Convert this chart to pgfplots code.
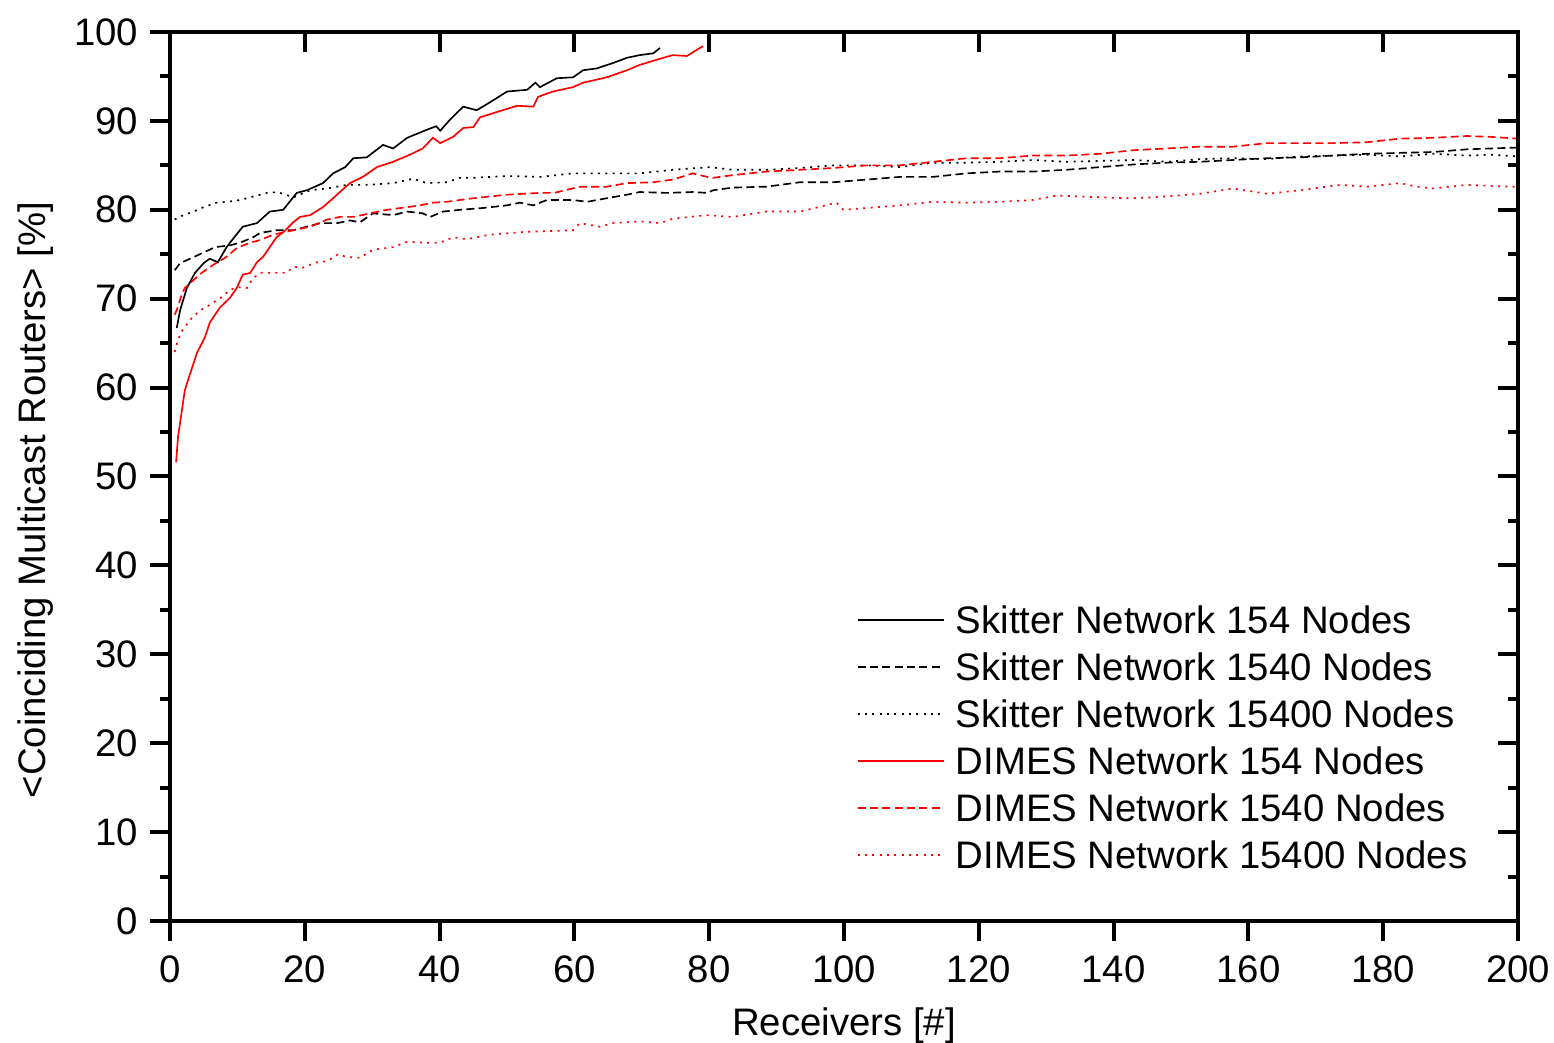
\documentclass[border=0pt]{standalone}
\usepackage{fontspec}
\setmainfont{Liberation Sans}
\usepackage{pgfplots}
\pgfplotsset{compat=1.18}
\newcommand{\fs}{\fontsize{11.5pt}{13.8pt}\selectfont}
\pgfplotsset{
  baseax/.style={
    scale only axis, width=404.4pt, height=266.7pt,
    xmin=0, xmax=200, ymin=0, ymax=100,
    xtick distance=20, ytick distance=10,
    minor x tick num=0, minor y tick num=1,
    major tick length=6pt, minor tick length=3pt,
    every tick/.style={line width=1.2pt, black},
    axis line style={line width=1.2pt},
    /pgf/number format/assume math mode=true,
    tick label style={font=\fs},
  }
}
\tikzset{
  dsh/.style={dash pattern=on 2.4pt off 1.3pt},
  dtt/.style={dash pattern=on 0.6pt off 1.6pt},
}
\begin{document}
\begin{tikzpicture}
\path[use as bounding box] (-51pt,-36.6pt) rectangle (415.2pt,276.3pt);
\begin{axis}[baseax,
  xtick pos=lower, ytick pos=left, tick align=outside,
  xticklabel style={yshift=-1pt},
  xlabel={Receivers [\#]}, ylabel={<Coinciding Multicast Routers> [\%]},
  label style={font=\fs},
  xlabel style={at={(axis description cs:0.5,-0.118)}, anchor=center},
  ylabel style={at={(axis description cs:-0.1,0.4736)}, anchor=center, rotate=0},
  legend cell align=left,
  legend image code/.code={\draw[#1, line width=0.5pt] (0pt,0pt) -- (25.8pt,0pt);},
  legend style={draw=none, fill=none, font=\fs, inner sep=0pt, outer sep=0pt,
    at={(axis description cs:0.5096,0.3592)}, anchor=north west,
    nodes={inner sep=0pt, text height=9.5pt, text depth=1.5pt},
    row sep=3.1pt, column sep=3.4pt},
  every axis plot/.append style={line width=0.5pt},
]
% Skitter 154
\addplot[black] coordinates {(1,66.7)(1.5,68.7)(2.5,71.2)(3.7,72.9)(5,74)(5.9,74.5)(7.1,74.1)(8.4,75.8)(8.9,76.3)(10.8,78.1)(12.9,78.5)(14.8,79.8)(16.8,80.0)(18.8,81.9)(20.3,82.2)(22.7,83.0)(24.2,84.1)(26.0,84.8)(27.2,85.8)(29.2,85.9)(31.6,87.3)(33.1,86.9)(35.2,88.1)(38.1,89.0)(39.5,89.4)(40.1,88.9)(41.5,90.1)(43.5,91.6)(45.5,91.2)(47.5,92.1)(50,93.3)(53,93.5)(54.2,94.3)(54.9,93.8)(57.4,94.8)(59.8,94.9)(61.3,95.7)(63.3,95.9)(65.7,96.5)(67.8,97.1)(69.7,97.4)(71.7,97.6)(72.7,98.2)};
\addlegendentry{Skitter Network 154 Nodes}
% Skitter 1540
\addplot[black, dsh] coordinates {(0.7,73.2)(1.5,74.0)(3,74.5)(4.7,75.1)(6.7,75.8)(8.9,76.0)(10.4,76.3)(12.3,76.9)(13.4,77.4)(15.8,77.7)(18.3,77.7)(20.3,78.1)(22.3,78.5)(24.8,78.5)(26.7,78.8)(28.2,78.6)(30.1,79.6)(33.1,79.4)(35.2,79.8)(37.5,79.6)(38.6,79.2)(40.5,79.8)(43,80.0)(46.4,80.2)(50,80.5)(51.9,80.8)(53.9,80.5)(55.9,81.1)(59.8,81.1)(61.9,80.9)(64.8,81.3)(67.8,81.7)(69.7,82.0)(73.7,81.9)(77.6,82.0)(79.7,81.9)(80.6,82.2)(83.5,82.5)(88.5,82.6)(93.5,83.1)(98.4,83.1)(103.4,83.4)(108.3,83.7)(113.2,83.7)(118.2,84.1)(123.1,84.3)(128,84.3)(133,84.5)(138,84.8)(143,85.1)(147.9,85.3)(152.8,85.4)(157.7,85.6)(162.7,85.8)(167.7,85.9)(172.6,86.1)(177.6,86.3)(182.5,86.4)(187.4,86.5)(192.4,86.8)(196,86.9)(200,87.0)};
\addlegendentry{Skitter Network 1540 Nodes}
% Skitter 15400
\addplot[black, dtt] coordinates {(0.7,78.9)(2,79.4)(3.5,79.8)(5,80.3)(6.9,80.8)(8.5,80.9)(10.4,81.1)(13.4,81.7)(14.8,82.0)(16.3,81.9)(18.3,81.4)(20.8,82.2)(23.3,82.4)(26.2,82.8)(29.2,82.8)(33.1,83.0)(36.1,83.5)(38.1,83.0)(41.1,83.1)(43,83.6)(45,83.6)(50,83.8)(54.9,83.7)(59.8,84.1)(64.8,84.1)(69.7,84.1)(74.6,84.5)(80.1,84.8)(83.5,84.5)(88.5,84.5)(93.5,84.7)(98.4,85.0)(103.4,85.0)(108.3,84.8)(113.2,85.3)(118.2,85.3)(123.1,85.4)(128,85.6)(133,85.4)(138,85.5)(143,85.6)(148,85.4)(152.8,85.7)(157.7,85.8)(162.7,85.7)(167.7,86.0)(172.6,86.1)(177.6,86.2)(182.5,86.0)(187.4,86.3)(192.4,86.1)(196,86.2)(200,86.0)};
\addlegendentry{Skitter Network 15400 Nodes}
% DIMES 154
\addplot[red] coordinates {(0.9,51.6)(1.2,54.5)(1.7,57.1)(2.2,59.7)(3.0,61.6)(4.0,63.9)(5.2,65.7)(5.9,67.3)(7.4,69.0)(8.9,70.1)(9.9,71.2)(10.8,72.7)(11.9,72.9)(12.9,74.1)(13.8,74.7)(14.8,75.8)(15.8,76.9)(17,77.6)(18.3,78.6)(19.3,79.2)(20.8,79.4)(22.7,80.3)(24.2,81.3)(25.5,82.2)(26.7,83.0)(28.6,83.7)(30.7,84.8)(33.1,85.4)(35.6,86.2)(37.5,86.9)(39.0,88.1)(40.1,87.5)(42.0,88.2)(43.5,89.2)(45,89.3)(46,90.4)(48.5,91.0)(51.5,91.7)(53.9,91.6)(54.6,92.7)(56.8,93.3)(59.8,93.8)(61.3,94.3)(64.8,94.9)(67.8,95.7)(69.7,96.3)(72.3,96.9)(74.6,97.4)(76.7,97.3)(78.6,98.2)(79.1,98.4)};
\addlegendentry{DIMES Network 154 Nodes}
% DIMES 1540
\addplot[red, dsh] coordinates {(0.7,68.2)(1.2,69.1)(1.7,70.4)(2.2,71.2)(3.5,72.1)(4.7,72.9)(6.4,73.8)(8.4,74.7)(9.9,75.7)(11.9,76.3)(13.4,76.6)(15.3,77.2)(18.3,77.7)(20.8,78.1)(23.3,78.9)(25.2,79.2)(27.2,79.2)(29.7,79.6)(32.2,80.0)(35.2,80.3)(37.1,80.5)(39,80.8)(41.1,80.9)(43,81.1)(45,81.3)(50,81.7)(54.9,81.9)(57,81.9)(60.8,82.6)(64.8,82.6)(67.8,83.0)(71.7,83.1)(74.6,83.4)(77.6,84.1)(79.7,83.7)(80.6,83.6)(83.5,83.9)(88.5,84.3)(93.5,84.5)(98.4,84.7)(103.4,85.0)(108.3,85.0)(113.2,85.4)(118.2,85.8)(123.1,85.8)(128,86.1)(133,86.1)(138,86.3)(142.9,86.7)(147.9,86.9)(152.8,87.1)(157.7,87.1)(162.8,87.5)(167.7,87.5)(172.6,87.5)(177.6,87.6)(182.5,88.0)(187.4,88.1)(192.4,88.3)(196,88.2)(200,88.0)};
\addlegendentry{DIMES Network 1540 Nodes}
% DIMES 15400
\addplot[red, dtt] coordinates {(0.7,64.0)(1.2,65.4)(1.7,66.3)(2.2,66.8)(3.2,67.8)(4.5,68.7)(5.9,69.3)(7.7,70.2)(8.9,71.0)(10.1,71.3)(11.4,71.2)(12.3,72.3)(13.4,72.9)(15.8,72.9)(17.3,72.9)(18.3,73.6)(19.7,73.5)(21.8,74.1)(23.3,74.2)(24.9,75.0)(26.2,74.7)(28.2,74.6)(30.1,75.5)(33.1,75.8)(35.2,76.4)(38.1,76.3)(40,76.3)(42,76.9)(44,76.7)(47.5,77.2)(52.4,77.5)(55.9,77.6)(59.8,77.7)(60.8,78.5)(63.8,78.1)(65.7,78.5)(69.7,78.7)(72.7,78.5)(74.6,79.0)(79.7,79.4)(83.5,79.2)(88.5,79.8)(93.5,79.8)(98.9,80.8)(99.9,80.0)(103.4,80.2)(108.3,80.5)(113.2,80.9)(118.2,80.8)(123.1,80.9)(128,81.1)(131.6,81.6)(138,81.4)(142,81.3)(145.8,81.4)(152.8,81.8)(157.7,82.4)(162.8,81.8)(167.7,82.2)(173.6,82.8)(177.6,82.6)(182.5,83.0)(185,82.6)(187.4,82.4)(192.4,82.8)(198.8,82.6)(200,82.6)};
\addlegendentry{DIMES Network 15400 Nodes}
\end{axis}
\begin{axis}[baseax,
  xtick pos=upper, ytick pos=right, tick align=inside,
  xticklabels={}, yticklabels={},
]
\end{axis}
\end{tikzpicture}
\end{document}
